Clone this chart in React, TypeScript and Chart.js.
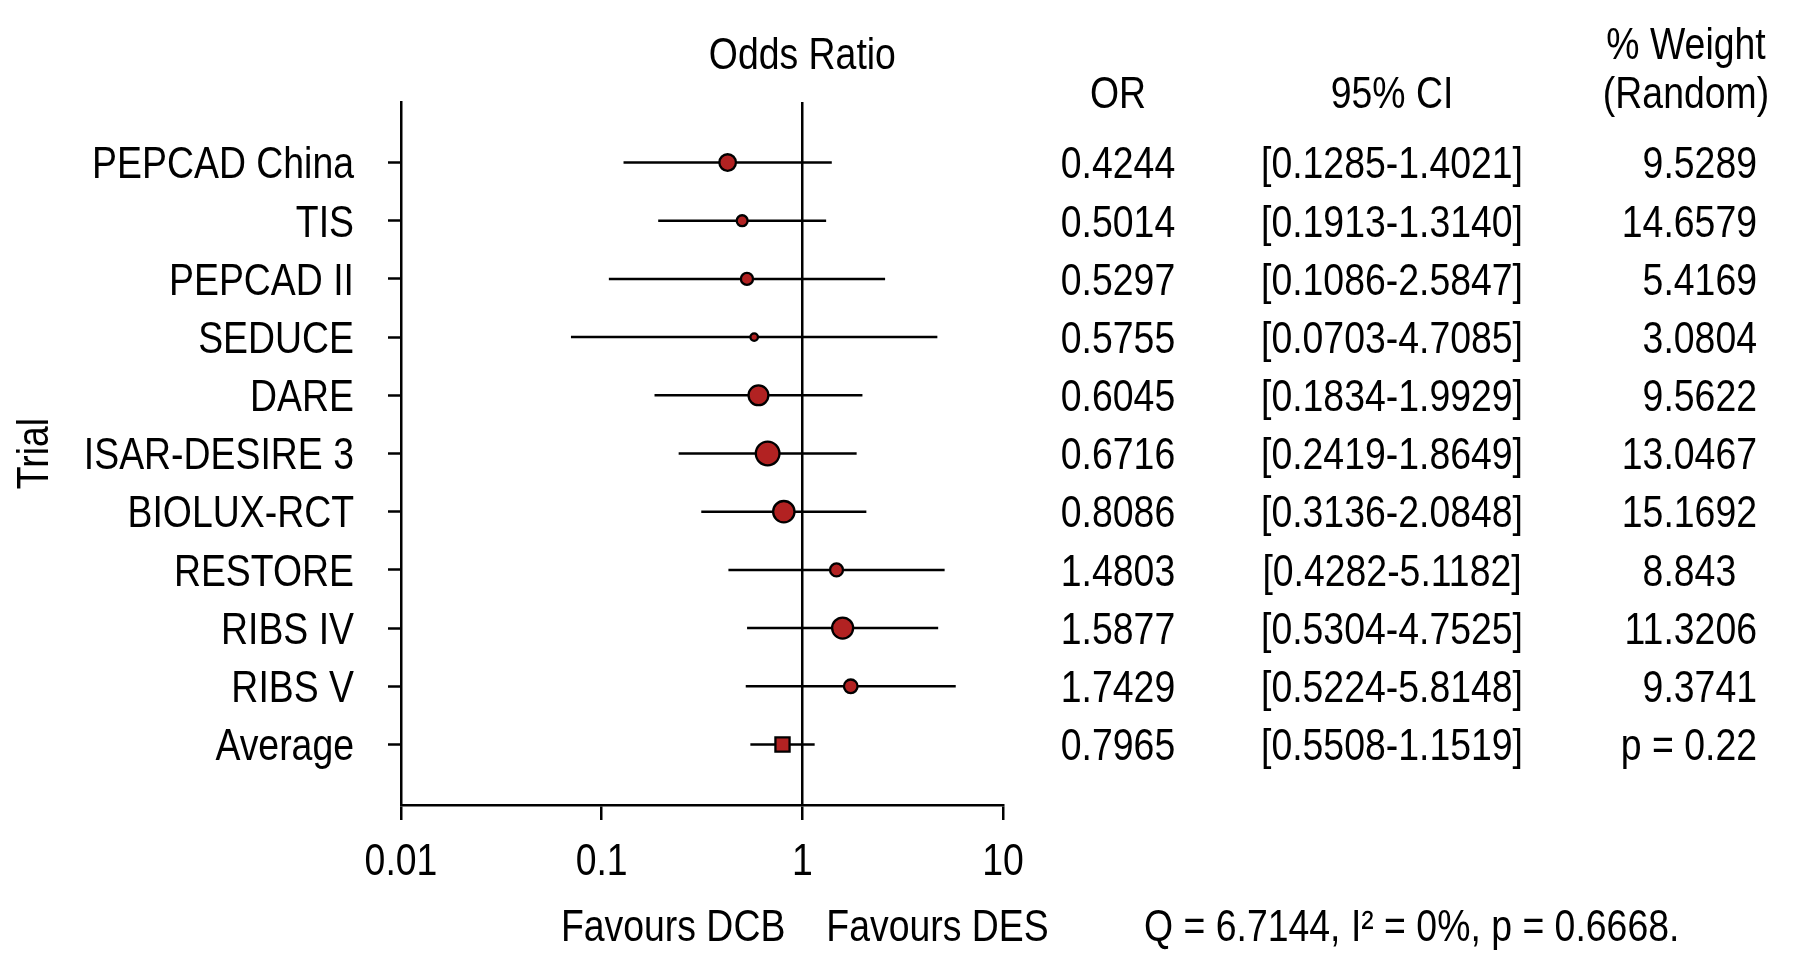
import React, { useEffect, useRef } from 'react';
import { Chart, registerables } from 'chart.js';

Chart.register(...registerables);

// ---------- data ----------
const trials = [
  'PEPCAD China',
  'TIS',
  'PEPCAD II',
  'SEDUCE',
  'DARE',
  'ISAR-DESIRE 3',
  'BIOLUX-RCT',
  'RESTORE',
  'RIBS IV',
  'RIBS V',
  'Average',
];
const oddsRatio = [0.4244, 0.5014, 0.5297, 0.5755, 0.6045, 0.6716, 0.8086, 1.4803, 1.5877, 1.7429, 0.7965];
const ciLower = [0.1285, 0.1913, 0.1086, 0.0703, 0.1834, 0.2419, 0.3136, 0.4282, 0.5304, 0.5224, 0.5508];
const ciUpper = [1.4021, 1.314, 2.5847, 4.7085, 1.9929, 1.8649, 2.0848, 5.1182, 4.7525, 5.8148, 1.1519];
const weightRandom = [9.5289, 14.6579, 5.4169, 3.0804, 9.5622, 13.0467, 15.1692, 8.843, 11.3206, 9.3741];
// relative (fixed-effect) weights
const markerWeight = [9.9, 4.8, 5.7, 2.6, 13.7, 18.9, 15.7, 6.4, 15.2, 7.0];
const pOverall = '0.22';
const qStat = '6.7144';
const iSquared = '0%';
const pHet = '0.6668';
const tickValues = [0.01, 0.1, 1, 10];
const tickLabels = ['0.01', '0.1', '1', '10'];

// ---------- text helpers ----------
const FONT_FAMILY = '"Liberation Sans", Arial, Helvetica, sans-serif';
const FONT_SIZE = 44;
const CONDENSE = 0.85;
const CAP_OFF = 15.8;

function drawText(
  ctx: CanvasRenderingContext2D,
  text: string,
  x: number,
  y: number,
  align: CanvasTextAlign,
  rotate = false
) {
  ctx.save();
  ctx.translate(x, y);
  if (rotate) ctx.rotate(-Math.PI / 2);
  ctx.scale(CONDENSE, 1);
  ctx.font = `${FONT_SIZE}px ${FONT_FAMILY}`;
  ctx.fillStyle = '#000';
  ctx.textAlign = align;
  ctx.textBaseline = 'alphabetic';
  ctx.fillText(text, 0, 0);
  ctx.restore();
}

function digitWidth(ctx: CanvasRenderingContext2D) {
  ctx.save();
  ctx.font = `${FONT_SIZE}px ${FONT_FAMILY}`;
  const w = ctx.measureText('0').width * CONDENSE;
  ctx.restore();
  return w;
}

const OR_X = 1118;
const CI_X = 1392;
const W_RIGHT = 1757;
const W_HEAD_X = 1686;
const Q_X = 1144;

const forestText = {
  id: 'forestText',
  afterDraw(chart: any) {
    const { ctx, chartArea, scales } = chart;
    const xs = scales.x;
    const ys = scales.y;
    const x1 = xs.getPixelForValue(1);

    // titles / headers
    drawText(ctx, 'Odds Ratio', x1, 53 + CAP_OFF, 'center');
    drawText(ctx, 'OR', OR_X, 92 + CAP_OFF, 'center');
    drawText(ctx, '95% CI', CI_X, 92 + CAP_OFF, 'center');
    drawText(ctx, '% Weight', W_HEAD_X, 43 + CAP_OFF, 'center');
    drawText(ctx, '(Random)', W_HEAD_X, 92 + CAP_OFF, 'center');

    // y axis title
    drawText(ctx, 'Trial', 32 + CAP_OFF, (chartArea.top + chartArea.bottom) / 2, 'center', true);

    const dw = digitWidth(ctx);
    trials.forEach((name, i) => {
      const y = ys.getPixelForValue(i) + CAP_OFF;
      drawText(ctx, name, chartArea.left - 47, y, 'right');
      drawText(ctx, oddsRatio[i].toFixed(4), OR_X, y, 'center');
      drawText(ctx, `[${ciLower[i].toFixed(4)}-${ciUpper[i].toFixed(4)}]`, CI_X, y, 'center');
      if (i < weightRandom.length) {
        const s = String(weightRandom[i]);
        const dec = s.includes('.') ? s.split('.')[1].length : 0;
        drawText(ctx, s, W_RIGHT - Math.max(0, 4 - dec) * dw, y, 'right');
      } else {
        drawText(ctx, `p = ${pOverall}`, W_RIGHT, y, 'right');
      }
    });

    // x tick labels
    tickValues.forEach((v, i) => {
      drawText(ctx, tickLabels[i], xs.getPixelForValue(v), 875, 'center');
    });

    drawText(ctx, 'Favours DCB', x1 - 17, 941, 'right');
    drawText(ctx, 'Favours DES', x1 + 24, 941, 'left');
    drawText(ctx, `Q = ${qStat}, I\u00B2 = ${iSquared}, p = ${pHet}.`, Q_X, 941, 'left');
  },
};

export default function App() {
  const ref = useRef<HTMLCanvasElement | null>(null);

  useEffect(() => {
    document.body.style.margin = '0';
    document.body.style.overflow = 'hidden';
    const canvas = ref.current;
    if (!canvas) return;
    const last = trials.length - 1;

    const ciDatasets = trials.map((_, i) => ({
      type: 'line' as const,
      data: [
        { x: ciLower[i], y: i },
        { x: ciUpper[i], y: i },
      ],
      borderColor: '#000',
      borderWidth: 2.5,
      pointRadius: 0,
      fill: false,
      order: 1,
    }));

    const pointDataset = {
      type: 'scatter' as const,
      data: trials.map((_, i) => ({ x: oddsRatio[i], y: i })),
      pointRadius: trials.map((_, i) => (i < last ? 2.95 * Math.sqrt(markerWeight[i]) - 1 : 10)),
      pointStyle: trials.map((_, i) => (i < last ? 'circle' : 'rect')),
      backgroundColor: '#B22222',
      borderColor: '#000',
      borderWidth: 2.3,
      order: 0,
    };

    const chart = new Chart(canvas, {
      type: 'scatter',
      data: { datasets: [...ciDatasets, pointDataset] as any },
      options: {
        responsive: false,
        animation: false,
        devicePixelRatio: 1,
        layout: { padding: { left: 0, top: 102, right: 797, bottom: 0 } },
        plugins: {
          legend: { display: false },
          tooltip: { enabled: false },
          title: { display: false },
        },
        scales: {
          x: {
            type: 'logarithmic',
            position: 'bottom',
            min: 0.01,
            max: 10,
            afterBuildTicks: (s: any) => {
              s.ticks = tickValues.map((v) => ({ value: v }));
            },
            afterFit: (s: any) => {
              s.height = 152;
            },
            ticks: { display: false },
            grid: {
              color: (c: any) => (c.tick && c.tick.value === 1 ? '#000' : 'rgba(0,0,0,0)'),
              lineWidth: 2.5,
              drawTicks: true,
              tickLength: 15,
              tickColor: '#000',
              tickWidth: 2.5,
            },
            border: { display: true, color: '#000', width: 2.5 },
          },
          y: {
            type: 'linear',
            min: -1.04,
            max: 11.04,
            reverse: true,
            afterBuildTicks: (s: any) => {
              s.ticks = trials.map((_, i) => ({ value: i }));
            },
            afterFit: (s: any) => {
              s.width = 401;
            },
            ticks: { display: false },
            grid: {
              drawOnChartArea: false,
              drawTicks: true,
              tickLength: 13,
              tickColor: '#000',
              tickWidth: 2.5,
            },
            border: { display: true, color: '#000', width: 2.5 },
          },
        } as any,
      },
      plugins: [forestText],
    });

    return () => chart.destroy();
  }, []);

  return (
    <div style={{ width: 1800, height: 957, background: '#fff' }}>
      <canvas ref={ref} width={1800} height={957} style={{ display: 'block' }} />
    </div>
  );
}
